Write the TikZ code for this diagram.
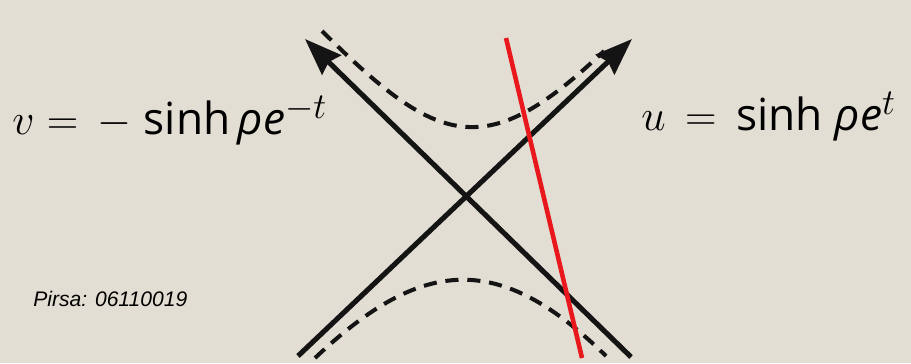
\documentclass[tikz,border=0pt]{standalone}
\usepackage{fontspec}
\newfontfamily\sinhfont[Scale=0.84]{Open Sans}
\newfontfamily\pirsafont{Liberation Sans}
\definecolor{slideBeige}{HTML}{E3DED3}
\definecolor{slideRed}{HTML}{E8181C}
\definecolor{slideBlack}{HTML}{141414}
\usetikzlibrary{arrows.meta, positioning}

\tikzset{
    lightcone/.style={line width=2.9pt, slideBlack, -{Stealth[length=0.74cm, width=0.54cm, inset=0.08cm]}},
    orbit/.style={line width=2.3pt, slideBlack, dash pattern=on 7.5pt off 5pt},
    probe/.style={line width=2.6pt, slideRed},
    formula/.style={anchor=base west, inner sep=0pt, font=\fontsize{30}{33}\selectfont}
}
\newcommand{\sh}{\mbox{\sinhfont sinh}}
\newcommand{\rhoe}{\mbox{\sinhfont\itshape ρe}}

\begin{document}
\begin{tikzpicture}[x=0.02cm, y=-0.02cm]
                % Background
                \fill[slideBeige] (0,0) rectangle (911,363);
                \useasboundingbox (0,0) rectangle (911,363);

                % Light cone
                \coordinate (uFoot) at (298,356);
                \coordinate (uTip) at (632,39);
                \coordinate (vFoot) at (631,357);
                \coordinate (vTip) at (305,39);
                \draw[lightcone] (uFoot) -- (uTip);
                \draw[lightcone] (vFoot) -- (vTip);

                % Hyperbolae
                \coordinate (topL) at (322,31);
                \coordinate (topR) at (604,51);
                \coordinate (botL) at (315,358);
                \coordinate (botR) at (606,356);
                \draw[orbit] (topL) .. controls (438,146) and (485,164) .. (topR);
                \draw[orbit] (botL) .. controls (422,257) and (499,251) .. (botR);

                % Red line
                \coordinate (redTop) at (506,38);
                \coordinate (redBot) at (582,358);
                \draw[probe] (redTop) -- (redBot);

                % Labels
                \node[formula] (vLabel) at (12,134) {$v = \,-\;\sh\,\rhoe^{-t}$};
                \node[formula] (uLabel) at (641,130) {$u \,=\, \sh\;\rhoe^{t}$};
                \node[anchor=base west, inner sep=0pt, font=\pirsafont\itshape\fontsize{12}{14}\selectfont] (pirsa) at (33,306) {Pirsa: 06110019};
            \end{tikzpicture}
\end{document}
